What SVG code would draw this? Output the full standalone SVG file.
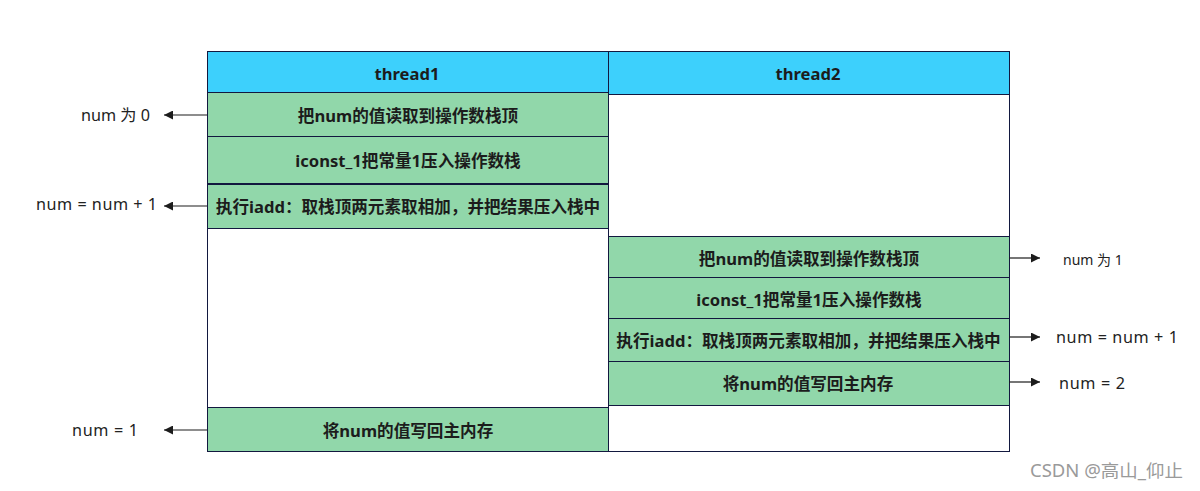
<svg xmlns="http://www.w3.org/2000/svg" width="1200" height="491" viewBox="0 0 1200 491">
<defs>
<style>
.hdr{fill:#3dd0fc;stroke:#12183f;stroke-width:1}
.cell{fill:#91d7aa;stroke:#12183f;stroke-width:1}
.blank{fill:#ffffff;stroke:#12183f;stroke-width:1}
.bt{font-family:"Noto Sans","Noto Sans CJK SC",sans-serif;font-weight:bold;font-size:16.6px;fill:#1c1c1c;text-anchor:middle;dominant-baseline:central}
.lbl{font-family:"Noto Sans","Noto Sans CJK SC",sans-serif;font-size:16.2px;fill:#222222;dominant-baseline:central}
.lbls{font-family:"Noto Sans","Noto Sans CJK SC",sans-serif;font-size:14px;fill:#222222;dominant-baseline:central}
.wm{font-family:"Noto Sans","Noto Sans CJK SC",sans-serif;font-size:17.5px;fill:#9a9a9a;dominant-baseline:central}
.conn{stroke:#1c1c1c;stroke-width:1.2;fill:none;marker-end:url(#ah)}
</style>
<marker id="ah" viewBox="0 0 10 10" refX="10" refY="5" markerWidth="9" markerHeight="9" markerUnits="userSpaceOnUse" orient="auto">
<path d="M0,0 L10,5 L0,10 z" fill="#1c1c1c"/>
</marker>
</defs>
<rect width="1200" height="491" fill="#ffffff"/>

<g id="thread1-col">
<rect class="blank" x="207.5" y="228.5" width="401" height="179"/>
</g>
<g id="thread2-col">
<rect class="blank" x="608.5" y="94.5" width="401" height="142"/>
<rect class="blank" x="608.5" y="405.5" width="401" height="46"/>
</g>

<g id="t1-header"><rect class="hdr" x="207.5" y="51.5" width="401" height="41"/><text class="bt" x="407" y="73">thread1</text></g>
<g id="t1-step1"><rect class="cell" x="207.5" y="92.5" width="401" height="44"/><text class="bt" x="408" y="115">把num的值读取到操作数栈顶</text></g>
<g id="t1-step2"><rect class="cell" x="207.5" y="136.5" width="401" height="47"/><text class="bt" x="408" y="160">iconst_1把常量1压入操作数栈</text></g>
<g id="t1-step3"><rect class="cell" x="207.5" y="184.5" width="401" height="44"/><text class="bt" x="408" y="206">执行iadd：取栈顶两元素取相加，并把结果压入栈中</text></g>
<g id="t1-step4"><rect class="cell" x="207.5" y="407.5" width="401" height="44"/><text class="bt" x="408" y="430">将num的值写回主内存</text></g>

<g id="t2-header"><rect class="hdr" x="608.5" y="51.5" width="401" height="43"/><text class="bt" x="808" y="73">thread2</text></g>
<g id="t2-step1"><rect class="cell" x="608.5" y="236.5" width="401" height="41"/><text class="bt" x="809" y="258">把num的值读取到操作数栈顶</text></g>
<g id="t2-step2"><rect class="cell" x="608.5" y="277.5" width="401" height="41"/><text class="bt" x="809" y="299">iconst_1把常量1压入操作数栈</text></g>
<g id="t2-step3"><rect class="cell" x="608.5" y="318.5" width="401" height="43"/><text class="bt" x="808.5" y="340">执行iadd：取栈顶两元素取相加，并把结果压入栈中</text></g>
<g id="t2-step4"><rect class="cell" x="608.5" y="361.5" width="401" height="44"/><text class="bt" x="808" y="383">将num的值写回主内存</text></g>

<g id="connectors">
<line class="conn" x1="207" y1="115" x2="164" y2="115"/>
<line class="conn" x1="207" y1="206" x2="164" y2="206"/>
<line class="conn" x1="207" y1="430" x2="164" y2="430"/>
<line class="conn" x1="1009" y1="258" x2="1040" y2="258"/>
<line class="conn" x1="1009" y1="337" x2="1040" y2="337"/>
<line class="conn" x1="1009" y1="382" x2="1040" y2="382"/>
</g>

<g id="labels">
<text class="lbl" x="81" y="115">num 为 0</text>
<text class="lbl" x="36" y="204" textLength="121" lengthAdjust="spacing">num = num + 1</text>
<text class="lbl" x="72" y="430" textLength="66" lengthAdjust="spacing">num = 1</text>
<text class="lbls" x="1063" y="259">num 为 1</text>
<text class="lbl" x="1056" y="337" textLength="122" lengthAdjust="spacing">num = num + 1</text>
<text class="lbl" x="1059" y="383" textLength="66" lengthAdjust="spacing">num = 2</text>
</g>

<text class="wm" x="1030" y="470" textLength="153" lengthAdjust="spacingAndGlyphs">CSDN @高山_仰止</text>
</svg>
